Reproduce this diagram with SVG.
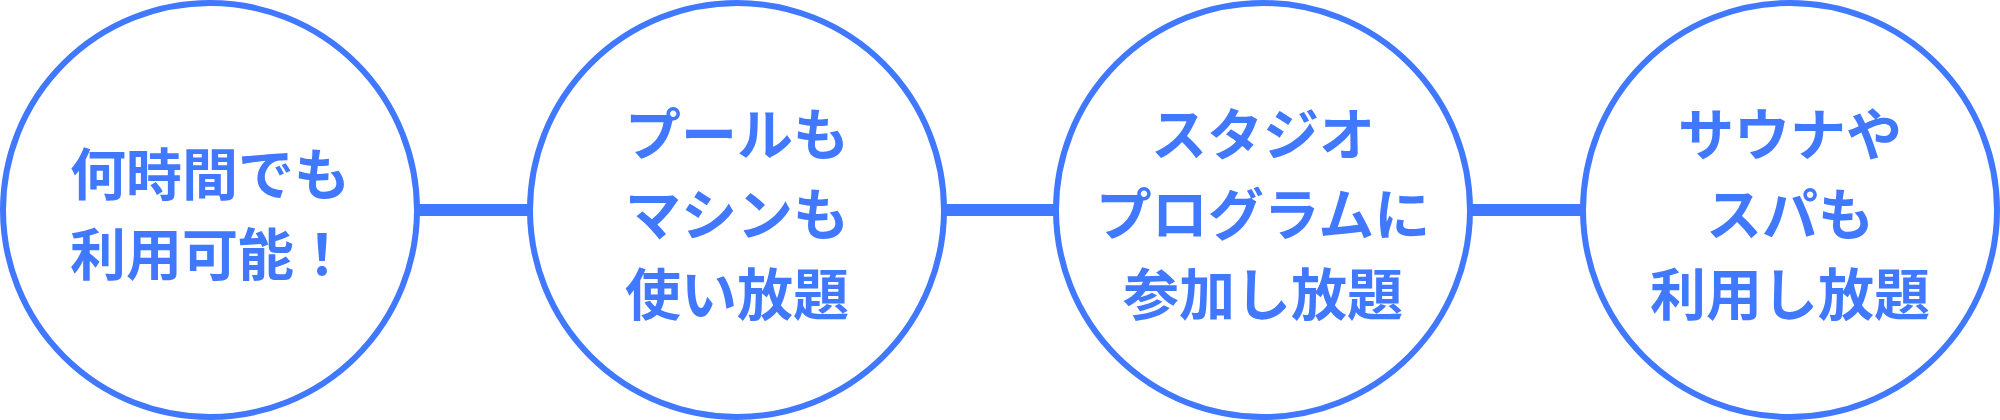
<svg xmlns="http://www.w3.org/2000/svg" width="2000" height="420" viewBox="0 0 2000 420">
<style>
.node circle{fill:#ffffff;stroke:#4078FF;stroke-width:6}
.node text{font-family:"Noto Sans CJK JP","Noto Sans CJK SC",sans-serif;font-weight:700;font-size:56px;fill:#4078FF;text-anchor:middle;dominant-baseline:central}
.conn line{stroke:#4078FF;stroke-width:12}
</style>
<rect width="2000" height="420" fill="#ffffff"/>
<g id="connectors" class="conn">
<line x1="416" y1="210" x2="531" y2="210"/>
<line x1="943" y1="210" x2="1057" y2="210"/>
<line x1="1469" y1="210" x2="1584" y2="210"/>
</g>
<g id="node1" class="node">
<circle cx="210" cy="210" r="207"/>
<text x="210" y="170">何時間でも</text>
<text x="210" y="250">利用可能！</text>
</g>
<g id="node2" class="node">
<circle cx="737" cy="210" r="207"/>
<text x="737" y="130">プールも</text>
<text x="737" y="210">マシンも</text>
<text x="737" y="290">使い放題</text>
</g>
<g id="node3" class="node">
<circle cx="1263" cy="210" r="207"/>
<text x="1263" y="130">スタジオ</text>
<text x="1263" y="210">プログラムに</text>
<text x="1263" y="290">参加し放題</text>
</g>
<g id="node4" class="node">
<circle cx="1790" cy="210" r="207"/>
<text x="1790" y="130">サウナや</text>
<text x="1790" y="210">スパも</text>
<text x="1790" y="290">利用し放題</text>
</g>
</svg>
